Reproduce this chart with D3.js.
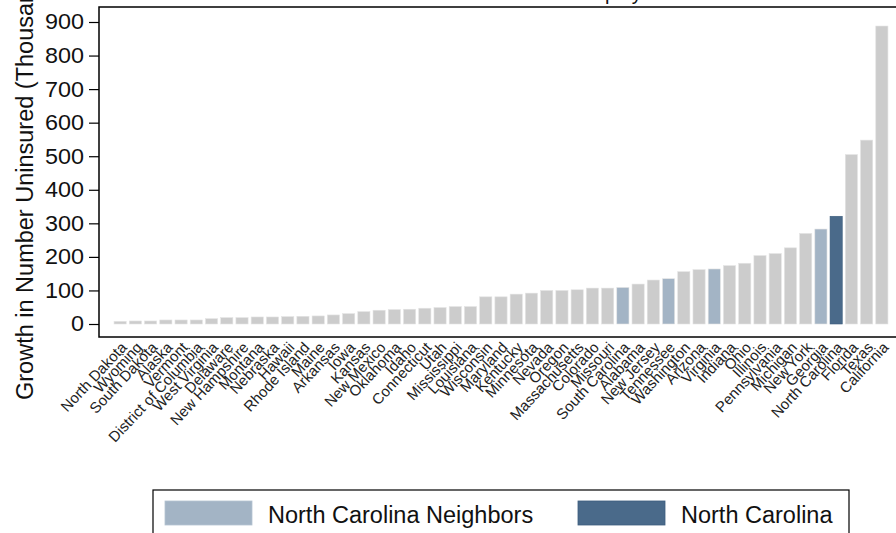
<!DOCTYPE html>
<html>
<head>
<meta charset="utf-8">
<script src="https://cdn.jsdelivr.net/npm/d3@7/dist/d3.min.js"></script>
<style>
  html, body { margin: 0; padding: 0; background: #ffffff; }
  svg { display: block; font-family: "Liberation Sans", Arial, sans-serif; }
</style>
</head>
<body>
<svg id="chart" width="896" height="533"></svg>
<script>
const states = ["North Dakota","Wyoming","South Dakota","Alaska","Vermont","District of Columbia","West Virginia","Delaware","New Hampshire","Montana","Nebraska","Hawaii","Rhode Island","Maine","Arkansas","Iowa","Kansas","New Mexico","Oklahoma","Idaho","Connecticut","Utah","Mississippi","Louisiana","Wisconsin","Maryland","Kentucky","Minnesota","Nevada","Oregon","Massachusetts","Colorado","Missouri","South Carolina","Alabama","New Jersey","Tennessee","Washington","Arizona","Virginia","Indiana","Ohio","Illinois","Pennsylvania","Michigan","New York","Georgia","North Carolina","Florida","Texas","California"];
const growth = [8,9,9,12,12,12,16,19,19,21,21,22,23,24,27,31,37,41,43,44,47,49,52,52,81,81,89,92,100,100,102,107,107,109,119,131,135,156,162,164,174,181,204,210,227,270,283,321,505,548,888];
const neighbors = ["South Carolina","Tennessee","Virginia","Georgia"];
const focusState = "North Carolina";
const yTicks = [0,100,200,300,400,500,600,700,800,900];
const legendItems = ["North Carolina Neighbors","North Carolina"];
const titlePre = "Growth in Uninsured Under 10% Unem";
const titlePost = "ployment";
const yLabel = "Growth in Number Uninsured (Thousands)";

const colors = { other: "#cccccc", neighbor: "#a3b4c5", focus: "#4a6a8a" };

const svg = d3.select("#chart");
const x = d3.scaleBand().domain(states).range([111, 891]).paddingInner(0.2).paddingOuter(0.2);
const y = d3.scaleLinear().domain([0, 900]).range([324, 22]);

function colorOf(s) {
  if (s === focusState) return colors.focus;
  if (neighbors.includes(s)) return colors.neighbor;
  return colors.other;
}

// frame
svg.append("rect").attr("x", 99).attr("y", 7).attr("width", 820).attr("height", 330)
  .attr("fill", "none").attr("stroke", "#000").attr("stroke-width", 1.5);

// bars
const data = states.map((s, i) => ({ s, v: growth[i] }));
svg.append("g").selectAll("rect").data(data).join("rect")
  .attr("x", d => x(d.s))
  .attr("y", d => y(d.v))
  .attr("width", x.bandwidth())
  .attr("height", d => y(0) - y(d.v))
  .attr("fill", d => colorOf(d.s))
  .attr("stroke", d => d.s === focusState ? "#3d5d7d" : "#e4e4e4")
  .attr("stroke-width", 0.6);

// y axis
const yAxis = d3.axisLeft(y).tickValues(yTicks).tickSize(10).tickPadding(5);
const gy = svg.append("g").attr("transform", "translate(99,0)").call(yAxis);
gy.select(".domain").remove();
gy.selectAll("line").attr("stroke", "#000").attr("stroke-width", 1.2);
gy.selectAll("text").attr("font-size", 21.5).attr("fill", "#111")
  .attr("font-family", "Liberation Sans, Arial, sans-serif")
  .attr("lengthAdjust", "spacingAndGlyphs")
  .attr("textLength", function () { return this.textContent.length * 13; });

// x labels
svg.append("g").selectAll("text").data(states).join("text")
  .attr("transform", s => `translate(${x(s) + x.bandwidth() / 2 + 2},${343}) rotate(-47)`)
  .attr("dy", "0.5em")
  .attr("text-anchor", "end")
  .attr("font-size", 15)
  .attr("fill", "#222")
  .text(s => s);

// y label
svg.append("text")
  .attr("transform", "translate(33,400) rotate(-90)")
  .attr("text-anchor", "start")
  .attr("font-size", 23.5)
  .attr("fill", "#111")
  .text(yLabel);

// title (mostly cut off at top)
const t = svg.append("text").attr("y", -0.5).attr("font-size", 20).attr("fill", "#111");
t.append("tspan").text(titlePre);
t.append("tspan").text(titlePost);
const prefixW = t.select("tspan").node().getComputedTextLength();
t.attr("x", 605 - prefixW);

// legend
const lg = svg.append("g");
lg.append("rect").attr("x", 153).attr("y", 490).attr("width", 696).attr("height", 60)
  .attr("fill", "#fff").attr("stroke", "#000").attr("stroke-width", 1.2);
const legendX = [165, 578];
const legendColors = [colors.neighbor, colors.focus];
legendItems.forEach((name, i) => {
  lg.append("rect").attr("x", legendX[i]).attr("y", 501).attr("width", 87).attr("height", 24)
    .attr("fill", legendColors[i]).attr("stroke", i === 1 ? "#3d5d7d" : "#b5c3d1").attr("stroke-width", 0.8);
  lg.append("text").attr("x", legendX[i] + 103).attr("y", 523).attr("font-size", 23.5)
    .attr("fill", "#111").text(name);
});
</script>
</body>
</html>
